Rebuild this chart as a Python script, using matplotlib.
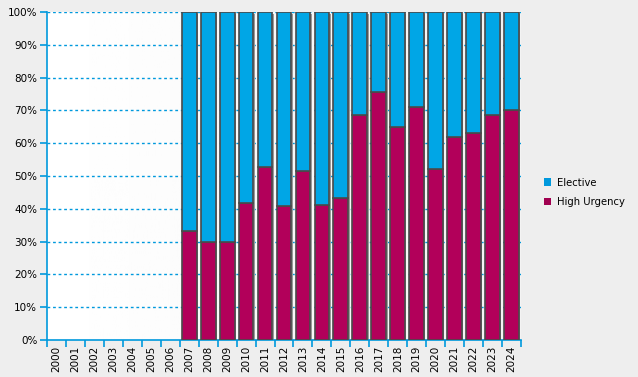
import numpy as np
import matplotlib.pyplot as plt
from matplotlib.patches import Patch
from matplotlib.ticker import FixedLocator, PercentFormatter

years = [str(y) for y in range(2000, 2025)]
high_urgency = [0, 0, 0, 0, 0, 0, 0,
                33.2, 29.9, 29.9, 41.8, 52.7, 40.9, 51.5, 41.2, 43.3,
                68.6, 75.6, 64.9, 71.0, 52.1, 61.9, 63.1, 68.6, 70.1]
has_data = [False] * 7 + [True] * 18

hu = np.array(high_urgency)
elective = np.where(has_data, 100 - hu, 0)

blue = '#00A6E6'
red = '#B2005A'

fig = plt.figure(figsize=(6.38, 3.77), dpi=100, facecolor='#EEEEEE')
ax = fig.add_axes([47 / 638, 37 / 377, 474 / 638, 328 / 377])

x = np.arange(len(years))
ax.set_xlim(-0.5, len(years) - 0.5)
ax.set_ylim(0, 100)

# plot area background: white fading to light grey
grad = np.linspace(1.0, 0.955, 256).reshape(1, -1)
ax.imshow(grad, extent=[-0.5, len(years) - 0.5, 0, 100], aspect='auto',
          cmap='gray', vmin=0, vmax=1, zorder=0)

for yv in range(10, 101, 10):
    ax.axhline(yv, color='#0099DD', lw=1, ls=(0, (2, 2)), zorder=1)

w = 0.78
idx = x[np.array(has_data)]
# shadows
ax.bar(idx + 0.07, 99.5, width=w, bottom=0, color='#9A9A9A', zorder=2)
ax.bar(idx, hu[has_data], width=w, color=red, edgecolor='#4A4A4A', lw=1.2,
       zorder=3)
ax.bar(idx, elective[has_data], width=w, bottom=hu[has_data], color=blue,
       edgecolor='#4A4A4A', lw=1.2, zorder=3)

for s in ['top', 'right']:
    ax.spines[s].set_visible(False)
for s in ['left', 'bottom']:
    ax.spines[s].set_color('#0099DD')
    ax.spines[s].set_linewidth(1.2)

ax.set_yticks(range(0, 101, 10))
ax.yaxis.set_major_formatter(PercentFormatter(decimals=0))
ax.set_xticks(x)
ax.set_xticklabels(years, rotation=90)
ax.xaxis.set_minor_locator(FixedLocator(np.arange(-0.5, len(years), 1)))
ax.tick_params(axis='x', which='major', length=0, pad=4, labelsize=7.5)
ax.tick_params(axis='x', which='minor', length=5, color='#0099DD', width=1.2)
ax.tick_params(axis='y', length=5, color='#0099DD', width=1.2, labelsize=7.5, pad=2)

handles = [Patch(facecolor='#0099DD', edgecolor='none'),
           Patch(facecolor='#A00050', edgecolor='none')]
fig.legend(handles, ['Elective', 'High Urgency'], loc='center left',
           bbox_to_anchor=(0.838, 0.49), frameon=False, fontsize=7.2,
           handlelength=0.75, handleheight=0.75, handletextpad=0.6,
           labelspacing=0.95)

fig.savefig('out.png', dpi=100, facecolor=fig.get_facecolor())
